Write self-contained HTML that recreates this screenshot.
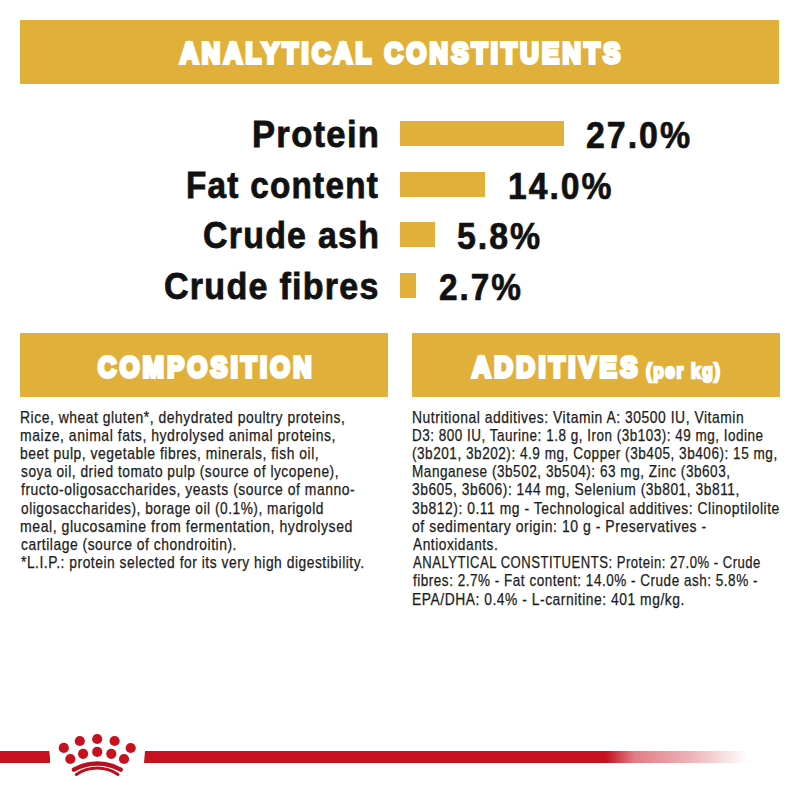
<!DOCTYPE html>
<html><head><meta charset="utf-8">
<style>
html,body{margin:0;padding:0;background:#fff;}
body{width:800px;height:800px;position:relative;overflow:hidden;font-family:"Liberation Sans",sans-serif;}
.bar{position:absolute;background:#e1b03a;}
.t{position:absolute;white-space:nowrap;line-height:1;transform-origin:0 0;}
.h{color:#fff;font-weight:bold;}
.lab{color:#111;font-weight:bold;}
.pc{color:#111;font-weight:bold;}
.b{color:#1c1c1c;}
</style></head><body>
<div class="bar" style="left:20px;top:19.8px;width:759px;height:64.4px"></div>
<div class="bar" style="left:400px;top:121px;width:164.2px;height:25.4px"></div>
<div class="bar" style="left:400px;top:171.8px;width:85.2px;height:25.2px"></div>
<div class="bar" style="left:400px;top:222.3px;width:35.2px;height:25.2px"></div>
<div class="bar" style="left:400px;top:272.5px;width:16.2px;height:25.2px"></div>
<div class="bar" style="left:20px;top:333.4px;width:368.4px;height:64.1px"></div>
<div class="bar" style="left:411.9px;top:333.4px;width:368.5px;height:64.1px"></div>
<div class="t h" id="h1" style="left:180.43px;top:37.84px;font-size:30.20px;letter-spacing:4.00px;-webkit-text-stroke:3.80px #fff;transform:scaleX(0.8456);">ANALYTICAL CONSTITUENTS</div>
<div class="t h" id="h2" style="left:97.92px;top:351.54px;font-size:30.20px;letter-spacing:4.00px;-webkit-text-stroke:3.80px #fff;transform:scaleX(0.8388);">COMPOSITION</div>
<div class="t h" id="h3" style="left:472.34px;top:351.54px;font-size:30.20px;letter-spacing:4.00px;-webkit-text-stroke:3.80px #fff;transform:scaleX(0.8577);">ADDITIVES</div>
<div class="t h" id="h4" style="left:645.86px;top:360.87px;font-size:20.00px;letter-spacing:1.80px;-webkit-text-stroke:2.40px #fff;transform:scaleX(0.8614);">(per kg)</div>
<div class="t lab" id="l1" style="left:252.48px;top:116.34px;font-size:37.40px;letter-spacing:1.4px;-webkit-text-stroke:0.8px #111;transform:scaleX(0.9252);">Protein</div>
<div class="t lab" id="l2" style="left:186.16px;top:167.34px;font-size:37.40px;letter-spacing:1.4px;-webkit-text-stroke:0.8px #111;transform:scaleX(0.8902);">Fat content</div>
<div class="t lab" id="l3" style="left:203.09px;top:217.34px;font-size:37.40px;letter-spacing:1.4px;-webkit-text-stroke:0.8px #111;transform:scaleX(0.9062);">Crude ash</div>
<div class="t lab" id="l4" style="left:164.09px;top:268.34px;font-size:37.40px;letter-spacing:1.4px;-webkit-text-stroke:0.8px #111;transform:scaleX(0.9103);">Crude fibres</div>
<div class="t pc" id="p1" style="left:586.28px;top:117.34px;font-size:37.40px;letter-spacing:2.2px;-webkit-text-stroke:0.7px #111;transform:scaleX(0.9061);">27.0%</div>
<div class="t pc" id="p2" style="left:508.15px;top:168.34px;font-size:37.40px;letter-spacing:2.2px;-webkit-text-stroke:0.7px #111;transform:scaleX(0.9004);">14.0%</div>
<div class="t pc" id="p3" style="left:457.05px;top:218.34px;font-size:37.40px;letter-spacing:2.2px;-webkit-text-stroke:0.7px #111;transform:scaleX(0.9066);">5.8%</div>
<div class="t pc" id="p4" style="left:438.53px;top:269.34px;font-size:37.40px;letter-spacing:2.2px;-webkit-text-stroke:0.7px #111;transform:scaleX(0.8929);">2.7%</div>
<div class="t b" id="c1" style="left:20.12px;top:409.51px;font-size:15.70px;letter-spacing:0.6px;-webkit-text-stroke:0.25px #1c1c1c;transform:scaleX(0.8849);">Rice, wheat gluten*, dehydrated poultry proteins,</div>
<div class="t b" id="c2" style="left:20.11px;top:427.71px;font-size:15.70px;letter-spacing:0.6px;-webkit-text-stroke:0.25px #1c1c1c;transform:scaleX(0.8920);">maize, animal fats, hydrolysed animal proteins,</div>
<div class="t b" id="c3" style="left:20.12px;top:445.91px;font-size:15.70px;letter-spacing:0.6px;-webkit-text-stroke:0.25px #1c1c1c;transform:scaleX(0.8842);">beet pulp, vegetable fibres, minerals, fish oil,</div>
<div class="t b" id="c4" style="left:21.00px;top:464.11px;font-size:15.70px;letter-spacing:0.6px;-webkit-text-stroke:0.25px #1c1c1c;transform:scaleX(0.8751);">soya oil, dried tomato pulp (source of lycopene),</div>
<div class="t b" id="c5" style="left:21.00px;top:482.31px;font-size:15.70px;letter-spacing:0.6px;-webkit-text-stroke:0.25px #1c1c1c;transform:scaleX(0.8880);">fructo-oligosaccharides, yeasts (source of manno-</div>
<div class="t b" id="c6" style="left:21.00px;top:500.51px;font-size:15.70px;letter-spacing:0.6px;-webkit-text-stroke:0.25px #1c1c1c;transform:scaleX(0.8734);">oligosaccharides), borage oil (0.1%), marigold</div>
<div class="t b" id="c7" style="left:20.10px;top:518.71px;font-size:15.70px;letter-spacing:0.6px;-webkit-text-stroke:0.25px #1c1c1c;transform:scaleX(0.8977);">meal, glucosamine from fermentation, hydrolysed</div>
<div class="t b" id="c8" style="left:21.00px;top:536.91px;font-size:15.70px;letter-spacing:0.6px;-webkit-text-stroke:0.25px #1c1c1c;transform:scaleX(0.8831);">cartilage (source of chondroitin).</div>
<div class="t b" id="c9" style="left:21.00px;top:555.11px;font-size:15.70px;letter-spacing:0.6px;-webkit-text-stroke:0.25px #1c1c1c;transform:scaleX(0.8808);">*L.I.P.: protein selected for its very high digestibility.</div>
<div class="t b" id="a1" style="left:412.25px;top:409.51px;font-size:15.70px;letter-spacing:0.6px;-webkit-text-stroke:0.25px #1c1c1c;transform:scaleX(0.8850);">Nutritional additives: Vitamin A: 30500 IU, Vitamin</div>
<div class="t b" id="a2" style="left:412.26px;top:427.71px;font-size:15.70px;letter-spacing:0.6px;-webkit-text-stroke:0.25px #1c1c1c;transform:scaleX(0.8588);">D3: 800 IU, Taurine: 1.8 g, Iron (3b103): 49 mg, Iodine</div>
<div class="t b" id="a3" style="left:412.25px;top:445.91px;font-size:15.70px;letter-spacing:0.6px;-webkit-text-stroke:0.25px #1c1c1c;transform:scaleX(0.8656);">(3b201, 3b202): 4.9 mg, Copper (3b405, 3b406): 15 mg,</div>
<div class="t b" id="a4" style="left:412.25px;top:464.11px;font-size:15.70px;letter-spacing:0.6px;-webkit-text-stroke:0.25px #1c1c1c;transform:scaleX(0.8656);">Manganese (3b502, 3b504): 63 mg, Zinc (3b603,</div>
<div class="t b" id="a5" style="left:412.25px;top:482.31px;font-size:15.70px;letter-spacing:0.6px;-webkit-text-stroke:0.25px #1c1c1c;transform:scaleX(0.8798);">3b605, 3b606): 144 mg, Selenium (3b801, 3b811,</div>
<div class="t b" id="a6" style="left:412.25px;top:500.51px;font-size:15.70px;letter-spacing:0.6px;-webkit-text-stroke:0.25px #1c1c1c;transform:scaleX(0.8850);">3b812): 0.11 mg - Technological additives: Clinoptilolite</div>
<div class="t b" id="a7" style="left:412.24px;top:518.71px;font-size:15.70px;letter-spacing:0.6px;-webkit-text-stroke:0.25px #1c1c1c;transform:scaleX(0.8918);">of sedimentary origin: 10 g - Preservatives -</div>
<div class="t b" id="a8" style="left:413.12px;top:536.91px;font-size:15.70px;letter-spacing:0.6px;-webkit-text-stroke:0.25px #1c1c1c;transform:scaleX(0.8742);">Antioxidants.</div>
<div class="t b" id="a9" style="left:413.10px;top:555.11px;font-size:15.70px;letter-spacing:0.6px;-webkit-text-stroke:0.25px #1c1c1c;transform:scaleX(0.8341);">ANALYTICAL CONSTITUENTS: Protein: 27.0% - Crude</div>
<div class="t b" id="a10" style="left:413.12px;top:573.31px;font-size:15.70px;letter-spacing:0.6px;-webkit-text-stroke:0.25px #1c1c1c;transform:scaleX(0.8610);">fibres: 2.7% - Fat content: 14.0% - Crude ash: 5.8% -</div>
<div class="t b" id="a11" style="left:412.25px;top:591.51px;font-size:15.70px;letter-spacing:0.6px;-webkit-text-stroke:0.25px #1c1c1c;transform:scaleX(0.8827);">EPA/DHA: 0.4% - L-carnitine: 401 mg/kg.</div>
<div style="position:absolute;left:0;top:751px;width:50px;height:12px;background:#c8101e;clip-path:polygon(0 0,49.3px 0,50.5px 12px,0 12px)"></div>
<div style="position:absolute;left:144px;top:751px;width:604px;height:12px;background:linear-gradient(to right,#c8101e 0,#c8101e 462px,rgba(200,16,30,0.55) 490px,rgba(200,16,30,0.3) 550px,rgba(200,16,30,0) 604px);clip-path:polygon(1px 0,100% 0,100% 100%,0 100%)"></div>
<svg style="position:absolute;left:0;top:700px" width="200" height="100" viewBox="0 700 200 100">
<g fill="#c8101e">
<circle cx="97.2" cy="739" r="5.1"/>
<circle cx="79.8" cy="741" r="5.1"/>
<circle cx="114.6" cy="741" r="5.1"/>
<circle cx="63.8" cy="747.9" r="5.1"/>
<circle cx="130.7" cy="748" r="5.1"/>
<circle cx="97.2" cy="751.9" r="5.1"/>
<circle cx="83.1" cy="753.8" r="5.1"/>
<circle cx="111.3" cy="753.8" r="5.1"/>
<circle cx="70.3" cy="759" r="5.1"/>
<circle cx="124" cy="759" r="5.1"/>
</g>
<path d="M73.9 769.6 A47.7 47.7 0 0 1 120.7 769.6" stroke="#b8101c" stroke-width="4.4" fill="none" stroke-linecap="round"/>
<path d="M76.3 774.4 A37.6 37.6 0 0 1 118 774.4" stroke="#b8101c" stroke-width="3" fill="none" stroke-linecap="round"/>
</svg>
</body></html>
